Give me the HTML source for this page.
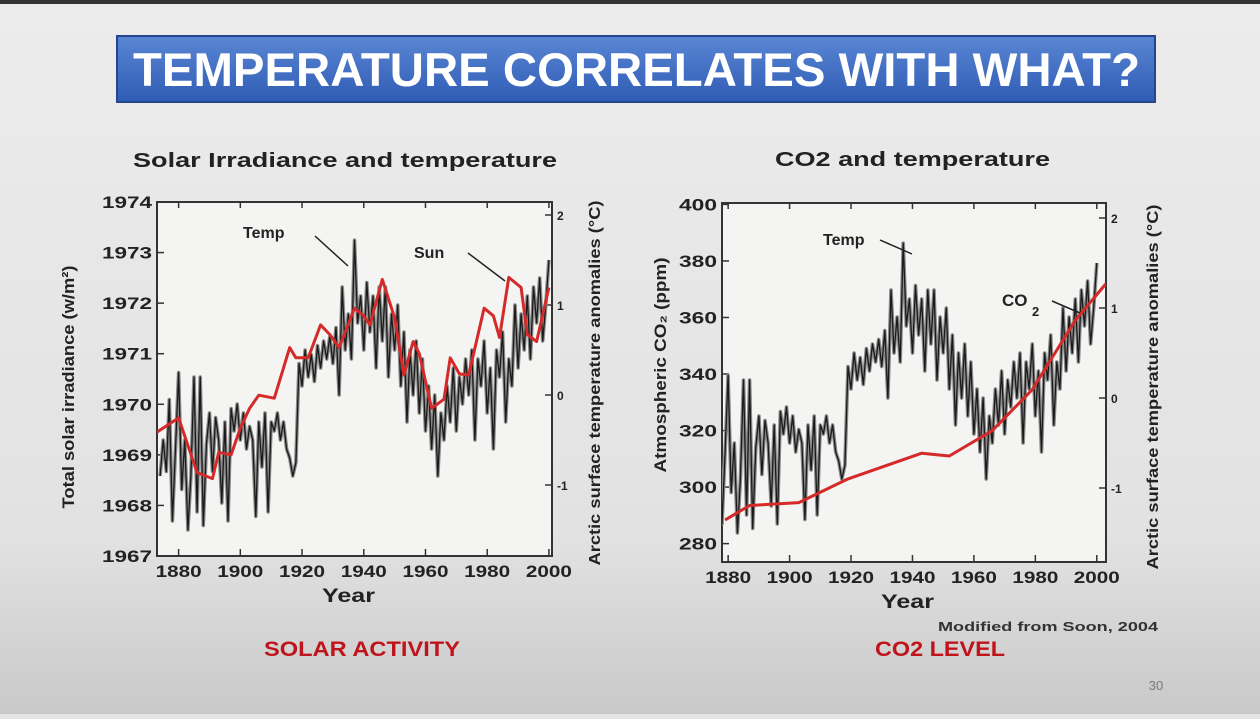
<!DOCTYPE html>
<html><head><meta charset="utf-8"><style>
body{margin:0;width:1260px;height:714px;overflow:hidden;background:#e4e4e4;font-family:"Liberation Sans",Arial,sans-serif}
svg text{font-family:"Liberation Sans",Arial,sans-serif}
</style></head><body>
<svg id="s" width="1260" height="714" viewBox="0 0 1260 714">
<defs>
<linearGradient id="bg" x1="0" y1="0" x2="0" y2="1"><stop offset="0" stop-color="#ececec"/><stop offset="0.75" stop-color="#e2e2e2"/><stop offset="1" stop-color="#c9c9c9"/></linearGradient>
<linearGradient id="ban" x1="0" y1="0" x2="0" y2="1"><stop offset="0" stop-color="#5a86d4"/><stop offset="1" stop-color="#2f5cb4"/></linearGradient>
<clipPath id="cL"><rect x="157" y="202" width="395" height="354"/></clipPath>
<clipPath id="cR"><rect x="722" y="203" width="384" height="359"/></clipPath>
</defs>
<rect width="1260" height="714" fill="url(#bg)"/>
<rect width="1260" height="4" fill="#333"/>
<rect x="117" y="36" width="1038" height="66" fill="url(#ban)" stroke="#24468c" stroke-width="2"/>
<text x="133" y="86" textLength="1007" lengthAdjust="spacingAndGlyphs" font-size="47" font-weight="bold" fill="#fff">TEMPERATURE CORRELATES WITH WHAT?</text>

<text x="133" y="167" textLength="424" lengthAdjust="spacingAndGlyphs" font-size="20" font-weight="bold" fill="#222">Solar Irradiance and temperature</text>
<text x="775" y="166" textLength="275" lengthAdjust="spacingAndGlyphs" font-size="20" font-weight="bold" fill="#222">CO2 and temperature</text>

<g id="L"></g>
<g id="R"></g>

<text x="322" y="602" textLength="53" lengthAdjust="spacingAndGlyphs" font-size="19" font-weight="bold" fill="#222">Year</text>
<text x="881" y="608" textLength="53" lengthAdjust="spacingAndGlyphs" font-size="19" font-weight="bold" fill="#222">Year</text>
<text x="74" y="387" transform="rotate(-90 74 387)" text-anchor="middle" textLength="243" lengthAdjust="spacingAndGlyphs" font-size="17" font-weight="bold" fill="#222">Total solar irradiance (w/m²)</text>
<text x="600" y="383" transform="rotate(-90 600 383)" text-anchor="middle" textLength="365" lengthAdjust="spacingAndGlyphs" font-size="16" font-weight="bold" fill="#222">Arctic surface temperature anomalies (°C)</text>
<text x="666" y="365" transform="rotate(-90 666 365)" text-anchor="middle" textLength="215" lengthAdjust="spacingAndGlyphs" font-size="17" font-weight="bold" fill="#222">Atmospheric CO₂ (ppm)</text>
<text x="1158" y="387" transform="rotate(-90 1158 387)" text-anchor="middle" textLength="365" lengthAdjust="spacingAndGlyphs" font-size="16" font-weight="bold" fill="#222">Arctic surface temperature anomalies (°C)</text>

<text x="938" y="631" textLength="220" lengthAdjust="spacingAndGlyphs" font-size="13" font-weight="bold" fill="#333">Modified from Soon, 2004</text>
<text x="264" y="656" textLength="196" lengthAdjust="spacingAndGlyphs" font-size="21" font-weight="bold" fill="#c0141c">SOLAR ACTIVITY</text>
<text x="875" y="656" textLength="130" lengthAdjust="spacingAndGlyphs" font-size="21" font-weight="bold" fill="#c0141c">CO2 LEVEL</text>
<text x="1156" y="690" text-anchor="middle" font-size="13" fill="#777">30</text>
</svg>
<script>
const tempStart = 1874;
const tempValues = [-0.9,-0.5,-0.85,-0.05,-1.4,-0.6,0.25,-1.05,-0.5,-1.5,-0.9,0.2,-1.3,0.2,-1.45,-0.55,-0.2,-0.85,-0.25,-0.5,-1.2,-0.3,-1.4,-0.15,-0.4,-0.1,-0.5,-0.2,-0.6,-0.35,-0.5,-1.35,-0.3,-0.8,-0.2,-1.3,-0.3,-0.4,-0.2,-0.5,-0.3,-0.6,-0.7,-0.9,-0.75,
0.35,0.1,0.5,0.2,0.45,0.15,0.55,0.3,0.6,0.4,0.65,0.35,0.75,0.0,
1.2,0.5,0.9,0.4,1.72,0.8,1.1,0.5,1.25,0.7,1.1,0.3,1.2,
0.6,1.2,0.2,0.9,0.5,1.0,0.1,0.7,-0.3,0.5,0.0,0.6,-0.2,0.4,-0.4,0.1,-0.6,0.0,
-0.9,-0.2,-0.5,0.1,-0.3,0.3,-0.4,0.2,-0.1,0.4,0.0,0.5,-0.5,0.4,0.1,0.6,-0.2,0.3,-0.6,0.5,0.2,0.7,-0.3,0.4,0.1,
1.0,0.3,0.9,0.5,1.1,0.4,1.2,0.8,1.3,0.6,1.0,1.5];
const sunYears = [1873,1880,1886,1891,1893,1897,1900,1903,1906,1911,1916,1918,1922,1926,1929,1932,1937,1940,1942,1946,1950,1953,1956,1958,1962,1966,1968,1971,1974,1979,1982,1984,1987,1991,1993,1996,2000];
const sunValues = [1969.45,1969.73,1968.65,1968.53,1969.05,1969.0,1969.53,1969.92,1970.18,1970.12,1971.12,1970.92,1970.92,1971.57,1971.38,1971.12,1971.9,1971.75,1971.57,1972.47,1971.71,1970.58,1971.24,1971.0,1969.92,1970.1,1970.92,1970.6,1970.58,1971.9,1971.75,1971.32,1972.51,1972.31,1971.38,1971.24,1972.31];
const co2Years = [1879,1887,1903,1919,1943,1952,1966,1979,1993,2003];
const co2Values = [288.4,293.5,294.5,302.9,312,311,320,334.5,359,372];
const leftTicks = [1967,1968,1969,1970,1971,1972,1973,1974];
const co2Ticks = [280,300,320,340,360,380,400];
const tempTicks = [-1,0,1,2];
const yearTicks = [1880,1900,1920,1940,1960,1980,2000];

const NS='http://www.w3.org/2000/svg';
function mk(parent,tag,attrs,txt){const e=document.createElementNS(NS,tag);for(const k in attrs)e.setAttribute(k,attrs[k]);if(txt!==undefined)e.textContent=txt;parent.appendChild(e);return e;}
function lin(d0,d1,r0,r1){return v=>r0+(v-d0)*(r1-r0)/(d1-d0);}

function chart(g,box,xd,yd,y2d,ticks,ylw,clip,series){
  const x=lin(xd[0],xd[1],box.x0,box.x1), y=lin(yd[0],yd[1],box.y1,box.y0), y2=lin(y2d[0],y2d[1],y2d[2],y2d[3]);
  const f=mk(g,'rect',{x:box.x0,y:box.y0,width:box.x1-box.x0,height:box.y1-box.y0,fill:'#f4f4f2',stroke:'#333','stroke-width':2});
  
  
  ticks.forEach(t=>{const yy=y(t);
    const l=mk(g,'line',{x1:box.x0,x2:box.x0+7,y1:yy,y2:yy,stroke:'#333','stroke-width':1.5});
    
    
    const tx=mk(g,'text',{x:box.x0-5-ylw,y:yy+6,textLength:ylw,lengthAdjust:'spacingAndGlyphs','font-size':17,'font-weight':'bold',fill:'#222'},t);
    
    });
  tempTicks.forEach(t=>{const yy=y2(t);
    mk(g,'line',{x1:box.x1-7,x2:box.x1,y1:yy,y2:yy,stroke:'#333','stroke-width':1.5});
    const tx=mk(g,'text',{x:box.x1+5,y:yy+5,'font-size':12,'font-weight':'bold',fill:'#222'},t);
    
    });
  yearTicks.forEach(t=>{const xx=x(t);
    mk(g,'line',{x1:xx,x2:xx,y1:box.y1,y2:box.y1-7,stroke:'#333','stroke-width':1.5});
    mk(g,'line',{x1:xx,x2:xx,y1:box.y0,y2:box.y0+6,stroke:'#333','stroke-width':1.5});
    const tx=mk(g,'text',{x:xx-23,y:box.y1+21,textLength:46,lengthAdjust:'spacingAndGlyphs','font-size':17,'font-weight':'bold',fill:'#222'},t);
    
    });
  const cg=mk(g,'g',{'clip-path':'url(#'+clip+')'});
  let d=tempValues.map((v,i)=>(i?'L':'M')+x(tempStart+i).toFixed(1)+','+y2(v).toFixed(1)).join('');
  const tl=mk(cg,'path',{d:d,fill:'none',stroke:'#8a8a8a','stroke-width':3.6,'stroke-linejoin':'round'});
  
  
  const tl2=mk(cg,'path',{d:d,fill:'none',stroke:'#1a1a1a','stroke-width':1.3,'stroke-linejoin':'round'});
  
  
  let d2=series.ys.map((yr,i)=>(i?'L':'M')+x(yr).toFixed(1)+','+y(series.vs[i]).toFixed(1)).join('');
  const rl=mk(cg,'path',{d:d2,fill:'none',stroke:'#d42a2a','stroke-width':3,'stroke-linejoin':'round'});
  
  
}
const L=document.getElementById('L'), R=document.getElementById('R');
chart(L,{x0:157,x1:552,y0:202,y1:556},[1873,2001],[1967,1974],[0,1,395,305],leftTicks,50,'cL',{ys:sunYears,vs:sunValues,name:'sun-line'});
chart(R,{x0:722,x1:1106,y0:203,y1:562},[1878,2003],[273.5,400.5],[0,1,398,308],co2Ticks,38,'cR',{ys:co2Years,vs:co2Values,name:'co2-line'});
function ann(g,t,tx,ty,x1,y1,x2,y2,name){
  const e=mk(g,'text',{x:tx,y:ty,'font-size':16,'font-weight':'bold',fill:'#222'},t);
  
  
  mk(g,'line',{x1:x1,y1:y1,x2:x2,y2:y2,stroke:'#222','stroke-width':1.5});
}
ann(L,'Temp',243,238,315,236,348,266,'temp-annotation');
ann(L,'Sun',414,258,468,253,505,281,'sun-annotation');
ann(R,'Temp',823,245,880,240,912,254,'temp-annotation-right');
const c=mk(R,'text',{x:1002,y:306,'font-size':17,'font-weight':'bold',fill:'#222'},'CO');


mk(R,'text',{x:1032,y:316,'font-size':13,'font-weight':'bold',fill:'#222'},'2');
mk(R,'line',{x1:1052,y1:301,x2:1080,y2:313,stroke:'#222','stroke-width':1.5});
</script>
</body></html>
